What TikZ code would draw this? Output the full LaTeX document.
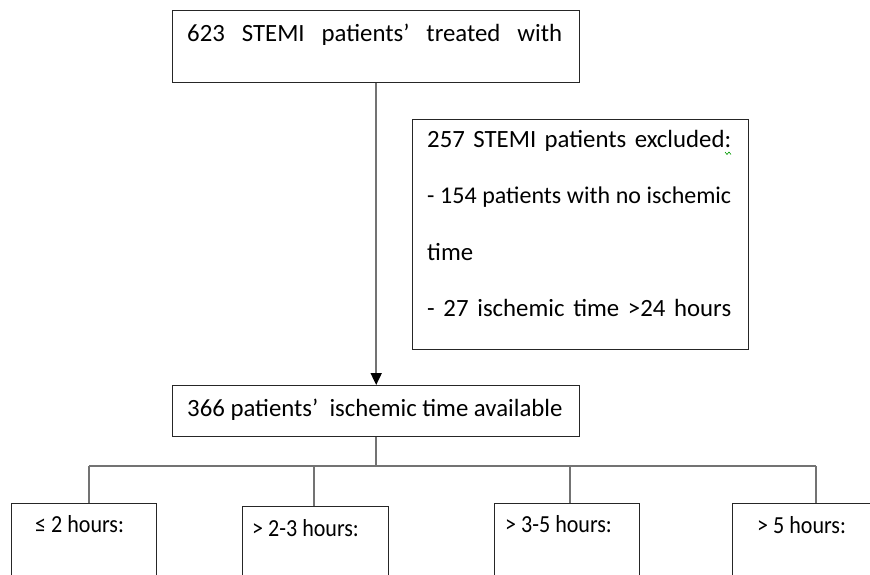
\documentclass[tikz,border=0pt]{standalone}
\usepackage{fontspec}
\setmainfont{Carlito}
\usetikzlibrary{arrows.meta}
\begin{document}
\begin{tikzpicture}[x=1pt,y=-1pt,
  box/.style={draw=black!85, line width=1.4pt, inner sep=0pt, anchor=north west},
  txt/.style={inner sep=0pt, anchor=base west, font=\fontsize{24.8}{28}\selectfont},
  smalltxt/.style={inner sep=0pt, anchor=base west, font=\fontsize{24.5}{28}\selectfont},
  conn/.style={draw=black!55, line width=1.8pt},
  arr/.style={-{Triangle[length=12pt,width=11pt,black]}}]
\useasboundingbox (0,0) rectangle (870,574);
\clip (0,0) rectangle (870,574);
% boxes
\node[box, minimum width=407pt, minimum height=72pt] (top) at (172,10) {};
\node[box, minimum width=336pt, minimum height=230pt] (excl) at (412,119) {};
\node[box, minimum width=407pt, minimum height=51pt] (mid) at (172,385) {};
\node[box, minimum width=145pt, minimum height=100pt] (b1) at (11,503) {};
\node[box, minimum width=146pt, minimum height=100pt] (b2) at (242,506) {};
\node[box, minimum width=145pt, minimum height=100pt] (b3) at (494,503) {};
\node[box, minimum width=160pt, minimum height=100pt] (b4) at (732,503) {};
% texts
\node[txt] (ttop) at (187,41) {\makebox[375pt][s]{623 STEMI patients’ treated with}};
\node[txt] (e1) at (427,147) {\makebox[304pt][s]{257 STEMI patients excluded:}};
\node[txt, font=\fontsize{24}{28}\selectfont] (e2) at (427,203.5) {\makebox[304pt][s]{- 154 patients with no ischemic}};
\node[txt] (e3) at (427,260) {time};
\node[txt] (e4) at (427,316.5) {\makebox[304pt][s]{- 27 ischemic time >24 hours}};
\node[txt] (tmid) at (187,416) {366 patients’\ \ ischemic time available};
\node[smalltxt] (t1) at (35,532) {\scalebox{0.9}[1]{≤ 2 hours:}};
\node[smalltxt] (t2) at (252,536) {\scalebox{0.9}[1]{> 2-3 hours:}};
\node[smalltxt] (t3) at (505,532) {\scalebox{0.9}[1]{> 3-5 hours:}};
\node[smalltxt] (t4) at (757,533) {\scalebox{0.9}[1]{> 5 hours:}};
% spell-check mark
\draw[green!60!black, line width=0.6pt] (725,152) -- (727,154.5) -- (729,152) -- (731,154.5);
% connectors
\draw[conn, arr] (top.south) -- (mid.north);
\coordinate (d1) at (89,466);
\coordinate (d2) at (314,466);
\coordinate (d3) at (570,466);
\coordinate (d4) at (816,466);
\draw[conn] (mid.south) -- (mid.south |- d1);
\draw[conn] (d1) -- (d4);
\draw[conn] (d1) -- (d1 |- b1.north);
\draw[conn] (d2) -- (d2 |- b2.north);
\draw[conn] (d3) -- (d3 |- b3.north);
\draw[conn] (d4) -- (d4 |- b4.north);
\end{tikzpicture}
\end{document}
